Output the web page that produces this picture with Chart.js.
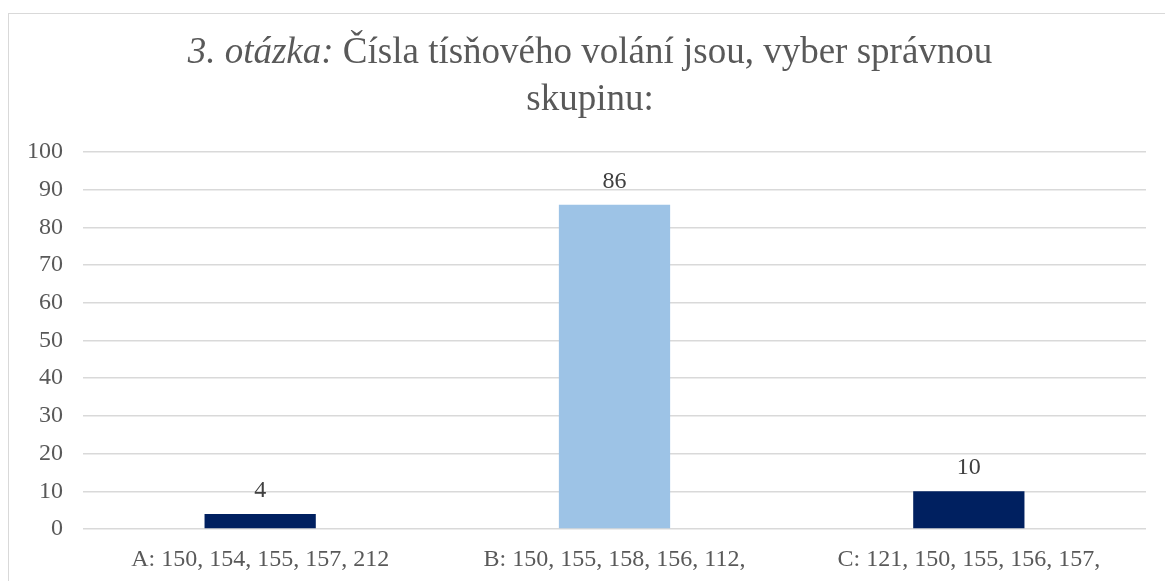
<!DOCTYPE html>
<html>
<head>
<meta charset="utf-8">
<script src="https://cdn.jsdelivr.net/npm/chart.js@4/dist/chart.umd.min.js"></script>
<style>
  html, body { margin: 0; padding: 0; background: #fff; overflow: hidden; }
  #wrap { position: relative; width: 1165px; height: 581px; }
  #frame { position: absolute; left: 8px; top: 13px; width: 1300px; height: 700px; border: 1px solid #d9d9d9; box-sizing: border-box; }
  canvas { position: absolute; left: 0; top: 0; }
</style>
</head>
<body>
<div id="wrap">
  <div id="frame"></div>
  <canvas id="chart" width="1165" height="581"></canvas>
</div>
<script>
const categories = ['A: 150, 154, 155, 157, 212', 'B: 150, 155, 158, 156, 112,', 'C: 121, 150, 155, 156, 157,'];
const values = [4, 86, 10];
const barColors = ['#002060', '#9dc3e6', '#002060'];
const yTicks = [0, 10, 20, 30, 40, 50, 60, 70, 80, 90, 100];
const titleItalic = '3. otázka:';
const titleLine1 = ' Čísla tísňového volání jsou, vyber správnou';
const titleLine2 = 'skupinu:';

const serif = "'Liberation Serif', 'Times New Roman', serif";

// title with italic part, drawn by hand
const titlePlugin = {
  id: 'mixedTitle',
  afterDraw(chart) {
    const ctx = chart.ctx;
    ctx.save();
    ctx.fillStyle = '#595959';
    ctx.textBaseline = 'alphabetic';
    const size = 37;
    ctx.font = `italic ${size}px ${serif}`;
    const w1 = ctx.measureText(titleItalic).width;
    ctx.font = `${size}px ${serif}`;
    const w2 = ctx.measureText(titleLine1).width;
    const cx = 590;
    let x = cx - (w1 + w2) / 2;
    ctx.font = `italic ${size}px ${serif}`;
    ctx.textAlign = 'left';
    ctx.fillText(titleItalic, x, 63);
    ctx.font = `${size}px ${serif}`;
    ctx.fillText(titleLine1, x + w1, 63);
    ctx.textAlign = 'center';
    ctx.fillText(titleLine2, cx, 110);
    ctx.restore();
  }
};

// value labels above bars
const valueLabels = {
  id: 'valueLabels',
  afterDatasetsDraw(chart) {
    const ctx = chart.ctx;
    const meta = chart.getDatasetMeta(0);
    ctx.save();
    ctx.font = `24px ${serif}`;
    ctx.fillStyle = '#404040';
    ctx.textAlign = 'center';
    ctx.textBaseline = 'alphabetic';
    meta.data.forEach((bar, i) => {
      ctx.fillText(values[i], bar.x, bar.y - 17);
    });
    ctx.restore();
  }
};

const ctx = document.getElementById('chart').getContext('2d');
new Chart(ctx, {
  type: 'bar',
  data: {
    labels: categories,
    datasets: [{
      data: values,
      backgroundColor: barColors,
      borderWidth: 0,
      barPercentage: 0.314,
      categoryPercentage: 1
    }]
  },
  options: {
    responsive: false,
    animation: false,
    layout: { padding: { left: 27, right: 19, top: 152, bottom: 8 } },
    plugins: {
      legend: { display: false },
      tooltip: { enabled: false },
      title: { display: false }
    },
    scales: {
      x: {
        grid: { display: false, drawTicks: false },
        border: { display: false },
        ticks: { color: '#595959', font: { family: serif, size: 24 }, padding: 16, maxRotation: 0 },
        afterFit(scale) { scale.height = 44; }
      },
      y: {
        min: 0,
        max: 100,
        afterBuildTicks(scale) { scale.ticks = yTicks.map(v => ({ value: v })); },
        grid: { color: '#d9d9d9', lineWidth: 1.5, drawTicks: false },
        border: { display: false },
        ticks: { color: '#595959', font: { family: serif, size: 24 }, padding: 20 },
        afterFit(scale) { scale.width = 56; }
      }
    }
  },
  plugins: [titlePlugin, valueLabels]
});
</script>
</body>
</html>
